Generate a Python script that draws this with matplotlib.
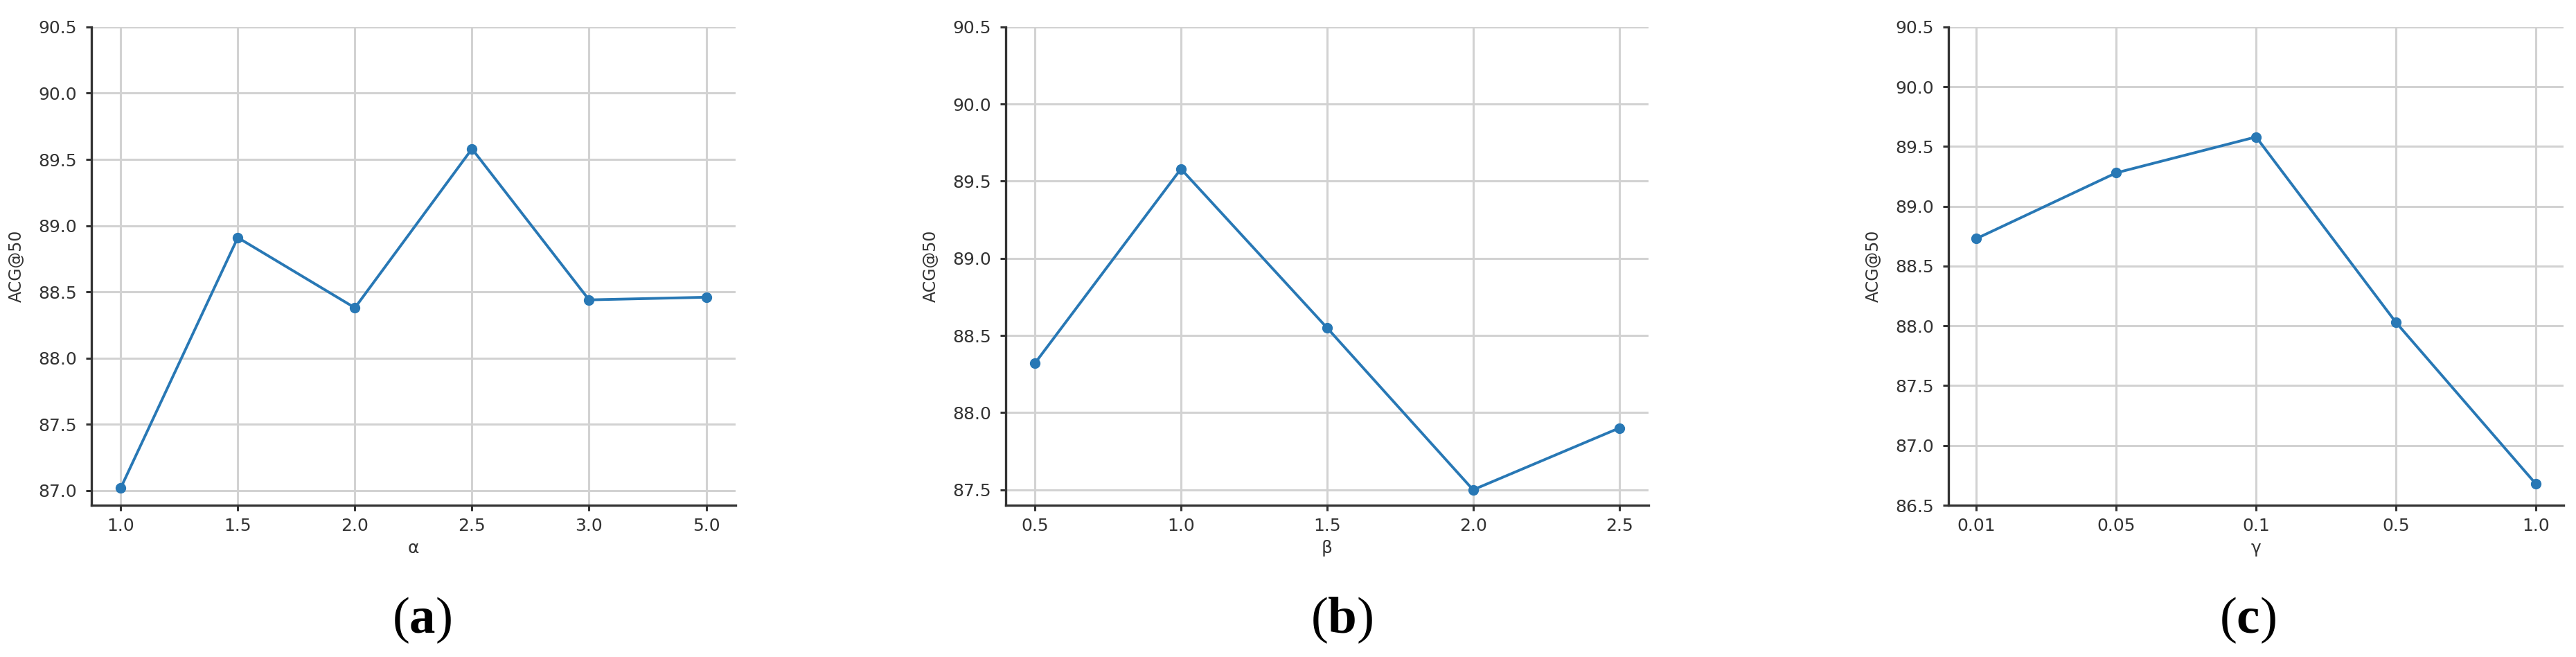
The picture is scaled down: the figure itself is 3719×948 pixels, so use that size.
import matplotlib
matplotlib.use("Agg")
import matplotlib.pyplot as plt

plt.rcParams['mathtext.fontset'] = 'custom'
plt.rcParams['mathtext.rm'] = 'Liberation Serif'
plt.rcParams['mathtext.bf'] = 'Liberation Serif:bold'

# data
alpha_labels = ['1.0', '1.5', '2.0', '2.5', '3.0', '5.0']
alpha_acg = [87.02, 88.91, 88.38, 89.58, 88.44, 88.46]

beta_labels = ['0.5', '1.0', '1.5', '2.0', '2.5']
beta_acg = [88.32, 89.58, 88.55, 87.50, 87.90]

gamma_labels = ['0.01', '0.05', '0.1', '0.5', '1.0']
gamma_acg = [88.73, 89.28, 89.58, 88.03, 86.68]

panels = [
    (alpha_labels, alpha_acg, 'α', [87.0 + 0.5 * i for i in range(8)], (86.89, 90.5), 'a'),
    (beta_labels, beta_acg, 'β', [87.5 + 0.5 * i for i in range(7)], (87.40, 90.5), 'b'),
    (gamma_labels, gamma_acg, 'γ', [86.5 + 0.5 * i for i in range(9)], (86.5, 90.5), 'c'),
]

boxes = [
    [0.0355, 0.231, 0.2500, 0.728],
    [0.3904, 0.231, 0.2495, 0.728],
    [0.7564, 0.231, 0.2388, 0.728],
]
label_x = [0.1638, 0.521, 0.8725]

fig = plt.figure(figsize=(37.19, 9.48), dpi=100)

for (labels, vals, name, yt, ylim, tag), box, lx in zip(panels, boxes, label_x):
    ax = fig.add_axes(box)
    xs = list(range(len(labels)))
    ax.plot(xs, vals, color='#2878b5', linewidth=2.8, marker='o', markersize=10)
    ax.set_xticks(xs)
    ax.set_xticklabels(labels)
    ax.set_yticks(yt)
    ax.set_yticklabels(['%.1f' % v for v in yt])
    ax.set_ylim(*ylim)
    ax.grid(True, color='#d2d2d2', linewidth=2.2)
    ax.set_axisbelow(True)
    for s in ['top', 'right']:
        ax.spines[s].set_visible(False)
    for s in ['left', 'bottom']:
        ax.spines[s].set_color('#333333')
        ax.spines[s].set_linewidth(2.4)
    ax.tick_params(labelsize=18, length=6, width=2.2, color='#333333',
                   labelcolor='#333333')
    ax.tick_params(axis='y', pad=9)
    ax.tick_params(axis='x', pad=7)
    ax.set_xlabel(name, fontsize=18, color='#333333', labelpad=6)
    ax.set_ylabel('ACG@50', fontsize=17, color='#333333', labelpad=14)
    fig.text(lx, 0.056, r'($\mathbf{%s}$)' % tag, ha='center', va='center',
             fontsize=54, family='Liberation Serif')

fig.savefig('out.png', dpi=100)
